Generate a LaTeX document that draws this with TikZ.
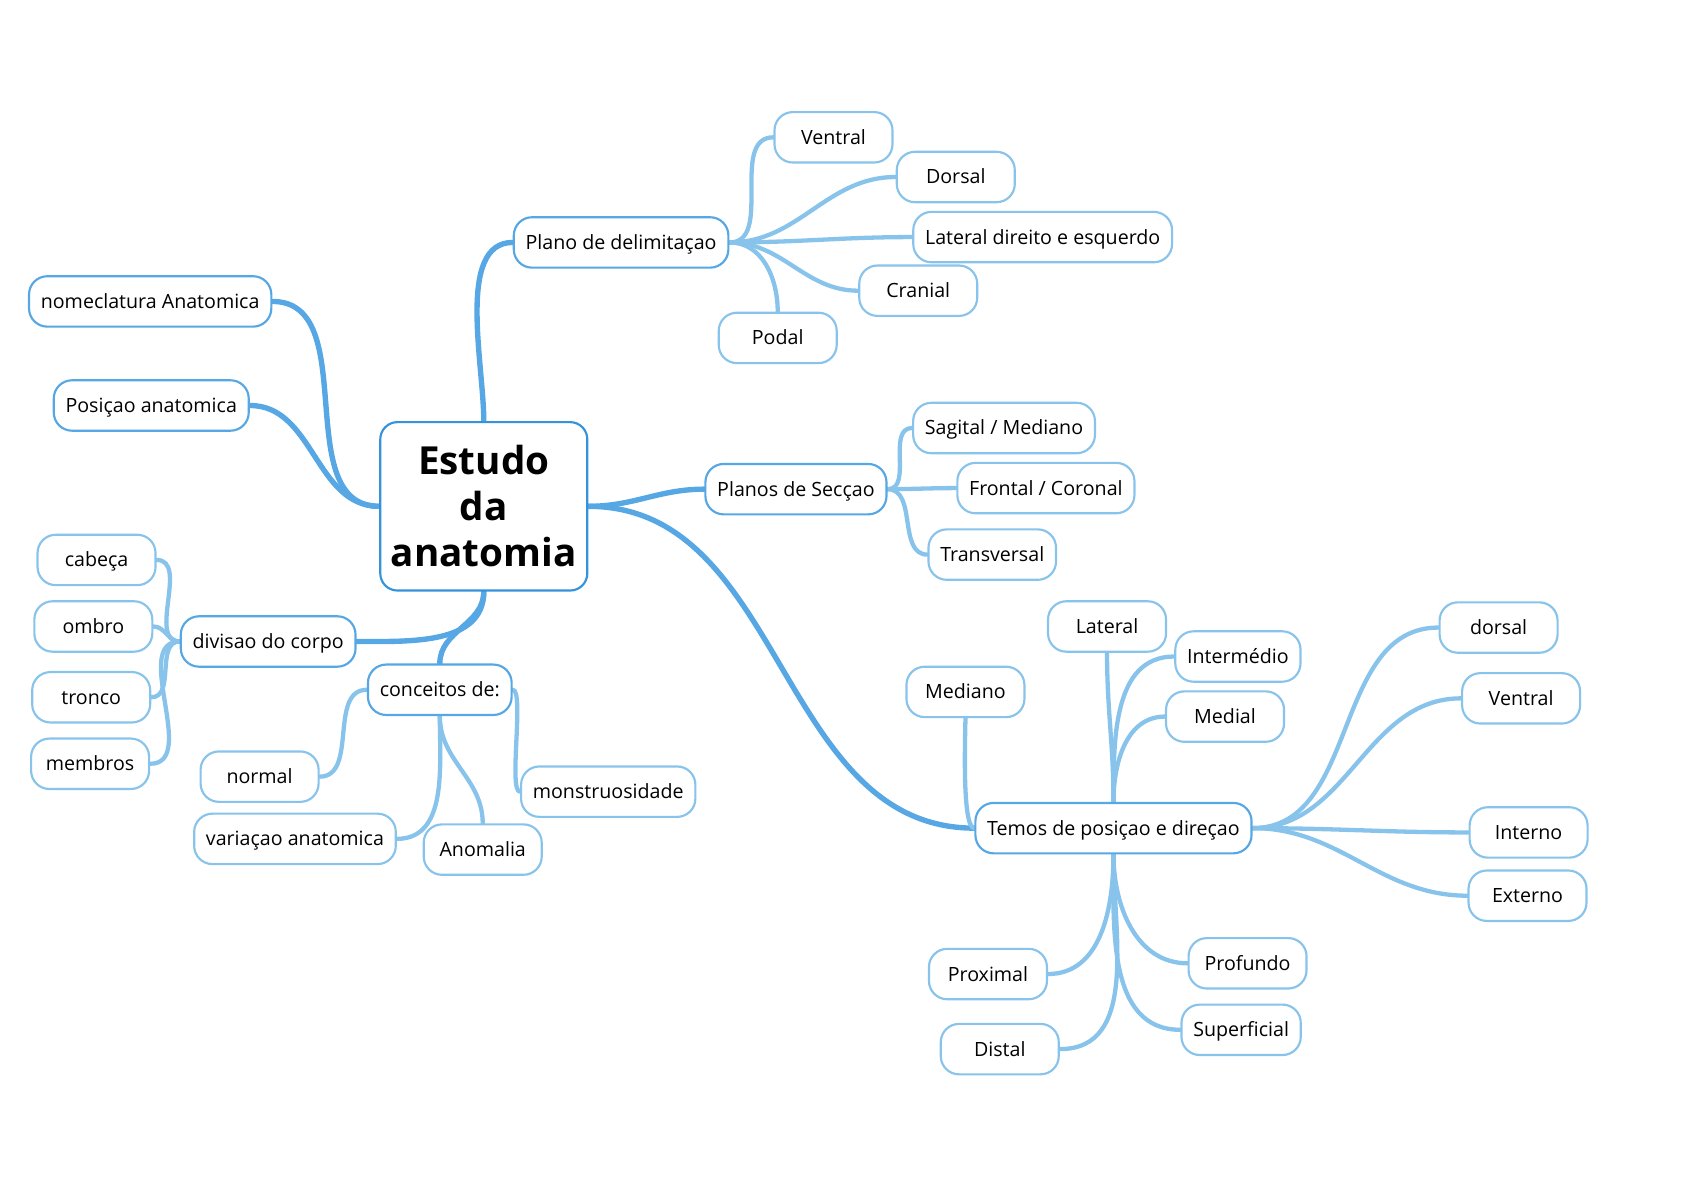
\documentclass[tikz,border=0pt]{standalone}
\usepackage{fontspec}
\setmainfont{Open Sans}
\usetikzlibrary{backgrounds}

\definecolor{azulcentro}{HTML}{3593DB}
\definecolor{azulramo}{HTML}{56A7E3}
\definecolor{azulfolha}{HTML}{88C3EB}

\tikzset{
	centro/.style={draw=azulcentro, line width=2pt, rounded corners=16pt, fill=white,
		align=center, minimum width=193pt, minimum height=157pt,
		font=\fontsize{36}{43}\selectfont\bfseries},
	ramo/.style={draw=azulramo, line width=2pt, rounded corners=17pt, fill=white,
		minimum width=110pt, minimum height=47pt, inner xsep=11pt,
		text height=15pt, text depth=2pt,
		font=\fontsize{18.3}{22}\selectfont},
	folha/.style={ramo, draw=azulfolha},
	ligaramo/.style={draw=azulramo, line width=5pt, line cap=round},
	ligafolha/.style={draw=azulfolha, line width=4pt, line cap=round}
}

\begin{document}
\begin{tikzpicture}[x=1pt, y=-1pt]
		\useasboundingbox (0,0) rectangle (1568,1109);

		% Tema central
		\node[centro] (estudo) at (451,472) {Estudo\\da\\anatomia};

		% Ramos principais
		\node[ramo] (plano)    at (579,226) {Plano de delimitaçao};
		\node[ramo] (nomec)    at (140,281) {nomeclatura Anatomica};
		\node[ramo] (posicao)  at (141,378) {Posiçao anatomica};
		\node[ramo] (planos)   at (742,456) {Planos de Secçao};
		\node[ramo] (divisao)  at (250,598) {divisao do corpo};
		\node[ramo] (conceito) at (410,643) {conceitos de:};
		\node[ramo] (termos)   at (1038,772) {Temos de posiçao e direçao};

		% Plano de delimitaçao
		\node[folha] (ventral)  at (777,128) {Ventral};
		\node[folha] (dorsal)   at (891,165) {Dorsal};
		\node[folha] (lateral)  at (972,221) {Lateral direito e esquerdo};
		\node[folha] (cranial)  at (856,271) {Cranial};
		\node[folha] (podal)    at (725,315) {Podal};

		% Planos de Secçao
		\node[folha] (sagital)  at (936,399) {Sagital / Mediano};
		\node[folha] (frontal)  at (975,455) {Frontal / Coronal};
		\node[folha] (transv)   at (925,517) {Transversal};

		% divisao do corpo
		\node[folha] (cabeca)   at (90,522)  {cabeça};
		\node[folha] (ombro)    at (87,584)  {ombro};
		\node[folha] (tronco)   at (85,650)  {tronco};
		\node[folha] (membros)  at (84,712)  {membros};

		% conceitos de
		\node[folha] (normal)   at (242,724) {normal};
		\node[folha] (variacao) at (275,782) {variaçao anatomica};
		\node[folha] (anomalia) at (450,792) {Anomalia};
		\node[folha] (monstro)  at (567,738) {monstruosidade};

		% Termos de posiçao e direçao
		\node[folha] (tlateral) at (1032,584) {Lateral};
		\node[folha] (interm)   at (1154,612) {Intermédio};
		\node[folha] (medial)   at (1142,668) {Medial};
		\node[folha] (mediano)  at (900,645)  {Mediano};
		\node[folha] (tdorsal)  at (1397,585) {dorsal};
		\node[folha] (tventral) at (1418,651) {Ventral};
		\node[folha] (interno)  at (1425,776) {Interno};
		\node[folha] (externo)  at (1424,835) {Externo};
		\node[folha] (profundo) at (1163,898) {Profundo};
		\node[folha] (superf)   at (1157,960) {Superficial};
		\node[folha] (proximal) at (921,908)  {Proximal};
		\node[folha] (distal)   at (932,978)  {Distal};

		% Ligaçoes
		\begin{scope}[on background layer]
		\draw[ligaramo] (estudo.north) to[out=90,in=180,looseness=0.8] (plano.west);
		\draw[ligaramo] (estudo.west) to[out=180,in=0] (nomec.east);
		\draw[ligaramo] (estudo.west) to[out=180,in=0] (posicao.east);
		\draw[ligaramo] (estudo.east) to[out=0,in=180] (planos.west);
		\draw[ligaramo] (estudo.east) to[out=0,in=180] (termos.west);
		\draw[ligaramo] (estudo.south) to[out=-90,in=0] (divisao.east);
		\draw[ligaramo] (estudo.south) to[out=-90,in=90] (conceito.north);

		\foreach \f in {ventral,dorsal,lateral,cranial}
			\draw[ligafolha] (plano.east) to[out=0,in=180] (\f.west);
		\draw[ligafolha] (plano.east) to[out=0,in=90] (podal.north);

		\foreach \f in {sagital,frontal,transv}
			\draw[ligafolha] (planos.east) to[out=0,in=180] (\f.west);

		\foreach \f in {cabeca,ombro,tronco,membros}
			\draw[ligafolha] (divisao.west) to[out=180,in=0] (\f.east);

		\draw[ligafolha] (conceito.west) to[out=180,in=0] (normal.east);
		\draw[ligafolha] (conceito.east) to[out=0,in=180,looseness=0.3] (monstro.west);
		\draw[ligafolha] (conceito.south) to[out=-90,in=0] (variacao.east);
		\draw[ligafolha] (conceito.south) to[out=-90,in=90] (anomalia.north);

		\draw[ligafolha] (termos.west) to[out=180,in=-90,looseness=0.3] (mediano.south);
		\draw[ligafolha] (termos.north) to[out=90,in=-90] (tlateral.south);
		\draw[ligafolha] (termos.north) to[out=90,in=180] (interm.west);
		\draw[ligafolha] (termos.north) to[out=90,in=180] (medial.west);
		\foreach \f in {tdorsal,tventral,interno,externo}
			\draw[ligafolha] (termos.east) to[out=0,in=180] (\f.west);
		\draw[ligafolha] (termos.south) to[out=-90,in=0] (proximal.east);
		\draw[ligafolha] (termos.south) to[out=-90,in=0] (distal.east);
		\draw[ligafolha] (termos.south) to[out=-90,in=180] (profundo.west);
		\draw[ligafolha] (termos.south) to[out=-90,in=180] (superf.west);
		\end{scope}
	\end{tikzpicture}
\end{document}
